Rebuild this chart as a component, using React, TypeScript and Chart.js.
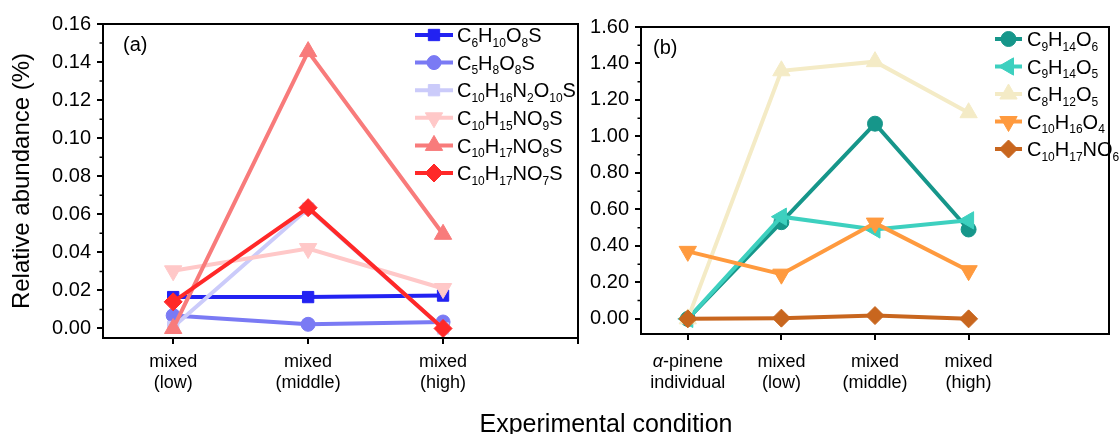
import React, { useEffect, useRef } from 'react';
import { Chart, registerables } from 'chart.js';
import { drawPoint } from 'chart.js/helpers';

Chart.register(...registerables);

const FONT = '"Liberation Sans", Arial, Helvetica, sans-serif';

// ---------- Panel (a) ----------
const categoriesA = [['mixed', '(low)'], ['mixed', '(middle)'], ['mixed', '(high)']];
const xTicksA = [0, 1, 2, 3];
const yTicksA = [0, 0.02, 0.04, 0.06, 0.08, 0.1, 0.12, 0.14, 0.16];
const namesA = ['C6H10O8S', 'C5H8O8S', 'C10H16N2O10S', 'C10H15NO9S', 'C10H17NO8S', 'C10H17NO7S'];
const C6H10O8S = [0.0165, 0.0165, 0.0173];
const C5H8O8S = [0.0068, 0.0022, 0.0034];
const C10H16N2O10S = [0.0008, 0.063, 0.0];
const C10H15NO9S = [0.0303, 0.042, 0.021];
const C10H17NO8S = [0.0, 0.1455, 0.0495];
const C10H17NO7S = [0.014, 0.0635, 0.0];
const valuesA = [C6H10O8S, C5H8O8S, C10H16N2O10S, C10H15NO9S, C10H17NO8S, C10H17NO7S];
const colorsA = ['#2222f2', '#7a7af4', '#cbcbfa', '#ffc8c8', '#f87b7b', '#ff2828'];
const markersA = [
  { style: 'rect', rotation: 0, radius: 8 },
  { style: 'circle', rotation: 0, radius: 7 },
  { style: 'rect', rotation: 0, radius: 8 },
  { style: 'triangle', rotation: 180, radius: 10 },
  { style: 'triangle', rotation: 0, radius: 10 },
  { style: 'rectRot', rotation: 0, radius: 9 },
];

// ---------- Panel (b) ----------
const categoriesB = [['α-pinene', 'individual'], ['mixed', '(low)'], ['mixed', '(middle)'], ['mixed', '(high)']];
const xTicksB = [0, 1, 2, 3];
const yTicksB = [0, 0.2, 0.4, 0.6, 0.8, 1.0, 1.2, 1.4, 1.6];
const namesB = ['C9H14O6', 'C9H14O5', 'C8H12O5', 'C10H16O4', 'C10H17NO6'];
const C9H14O6 = [0.0, 0.53, 1.07, 0.49];
const C9H14O5 = [0.0, 0.56, 0.49, 0.54];
const C8H12O5 = [0.0, 1.36, 1.41, 1.13];
const C10H16O4 = [0.37, 0.245, 0.525, 0.264];
const C10H17NO6 = [0.0, 0.004, 0.018, 0.0];
const valuesB = [C9H14O6, C9H14O5, C8H12O5, C10H16O4, C10H17NO6];
const colorsB = ['#16968a', '#3dd0bf', '#f4ebc6', '#ff9a3e', '#c8661e'];
const markersB = [
  { style: 'circle', rotation: 0, radius: 7.5 },
  { style: 'triangle', rotation: 270, radius: 10 },
  { style: 'triangle', rotation: 0, radius: 10 },
  { style: 'triangle', rotation: 180, radius: 10 },
  { style: 'rectRot', rotation: 0, radius: 9 },
];

function buildDatasets(names: string[], values: number[][], colors: string[], markers: any[]) {
  return names.map((name, i) => ({
    label: name,
    data: values[i].map((v, j) => ({ x: j, y: v })),
    borderColor: colors[i],
    backgroundColor: colors[i],
    borderWidth: 4,
    pointStyle: markers[i].style,
    pointRotation: markers[i].rotation,
    pointRadius: markers[i].radius,
    pointHoverRadius: markers[i].radius,
    pointBackgroundColor: colors[i],
    pointBorderColor: colors[i],
    pointBorderWidth: 1,
    clip: false,
    order: -i,
    tension: 0,
  }));
}

function drawFormula(ctx: CanvasRenderingContext2D, text: string, x: number, yMid: number, main: number, sub: number) {
  let cx = x;
  const base = yMid + main * 0.36;
  const tokens = text.match(/\d+|\D+/g) || [];
  ctx.textAlign = 'left';
  ctx.textBaseline = 'alphabetic';
  for (const tk of tokens) {
    if (/\d/.test(tk)) {
      ctx.font = `${sub}px ${FONT}`;
      ctx.fillText(tk, cx, base + sub * 0.38);
    } else {
      ctx.font = `${main}px ${FONT}`;
      ctx.fillText(tk, cx, base);
    }
    cx += ctx.measureText(tk).width;
  }
}

// draws a centred label line, with a Greek letter in italics
function drawTickLine(ctx: CanvasRenderingContext2D, text: string, cx: number, base: number, size: number) {
  const segs = text.match(/[α-ω]+|[^α-ω]+/g) || [];
  const fonts = segs.map((s) => (/[α-ω]/.test(s) ? `italic ${size}px ${FONT}` : `${size}px ${FONT}`));
  let total = 0;
  const widths = segs.map((s, i) => { ctx.font = fonts[i]; const w = ctx.measureText(s).width; total += w; return w; });
  let x = cx - total / 2;
  ctx.textAlign = 'left';
  ctx.textBaseline = 'alphabetic';
  segs.forEach((s, i) => { ctx.font = fonts[i]; ctx.fillText(s, x, base); x += widths[i]; });
}

const decorPlugin = {
  id: 'decor',
  afterDraw(chart: any, _args: any, opts: any) {
    const { ctx, chartArea: a, scales } = chart;
    ctx.save();
    ctx.strokeStyle = '#000';
    ctx.lineWidth = 2;
    ctx.strokeRect(a.left, a.top, a.right - a.left, a.bottom - a.top);
    // minor ticks on y
    const ys = scales.y;
    const t = ys.ticks.map((k: any) => k.value);
    ctx.lineWidth = 1.5;
    ctx.beginPath();
    for (let i = 0; i < t.length - 1; i++) {
      const p = ys.getPixelForValue((t[i] + t[i + 1]) / 2);
      ctx.moveTo(a.left - 3.5, p);
      ctx.lineTo(a.left, p);
    }
    ctx.stroke();
    // x category labels
    ctx.fillStyle = '#000';
    opts.categories.forEach((lines: string[], i: number) => {
      const px = scales.x.getPixelForValue(i);
      lines.forEach((ln, k) => drawTickLine(ctx, ln, px, opts.labelBase + k * opts.labelStep, 18));
    });
    // panel label
    ctx.font = `20px ${FONT}`;
    ctx.textBaseline = 'middle';
    ctx.textAlign = 'left';
    ctx.fillText(opts.panel, opts.panelX, opts.panelY);
    // legend
    chart.data.datasets.forEach((ds: any, i: number) => {
      const y = opts.legY + i * opts.legDy;
      ctx.strokeStyle = ds.borderColor;
      ctx.lineWidth = 4;
      ctx.beginPath();
      ctx.moveTo(opts.legX0, y);
      ctx.lineTo(opts.legX1, y);
      ctx.stroke();
      ctx.fillStyle = ds.pointBackgroundColor;
      ctx.strokeStyle = ds.pointBorderColor;
      ctx.lineWidth = 1;
      drawPoint(ctx, { pointStyle: ds.pointStyle, rotation: ds.pointRotation, radius: ds.pointRadius, borderWidth: 1 } as any, (opts.legX0 + opts.legX1) / 2, y);
      ctx.fillStyle = '#000';
      drawFormula(ctx, ds.label, opts.legTx, y, 20, 12);
    });
    ctx.restore();
  },
};

function makeConfig(p: any): any {
  return {
    type: 'line',
    data: { datasets: buildDatasets(p.names, p.values, p.colors, p.markers) },
    plugins: [decorPlugin],
    options: {
      animation: false,
      responsive: false,
      events: [],
      layout: { padding: { top: p.top, right: p.right, left: 0, bottom: 0 } },
      plugins: {
        legend: { display: false },
        tooltip: { enabled: false },
        decor: { ...p.decor, categories: p.categories, labelBase: 367, labelStep: 20.5 },
      },
      scales: {
        x: {
          type: 'linear',
          min: p.xMin,
          max: p.xMax,
          afterBuildTicks: (s: any) => { s.ticks = p.xTicks.map((v: number) => ({ value: v })); },
          afterFit: (s: any) => { s.height = p.xHeight; },
          grid: { drawOnChartArea: false, drawTicks: true, tickLength: 6, color: '#000', lineWidth: 2 },
          border: { display: false },
          ticks: { display: false },
        },
        y: {
          type: 'linear',
          min: p.yMin,
          max: p.yMax,
          afterBuildTicks: (s: any) => { s.ticks = p.yTicks.map((v: number) => ({ value: v })); },
          afterFit: (s: any) => { s.width = p.yWidth; },
          grid: { drawOnChartArea: false, drawTicks: true, tickLength: 6, color: '#000', lineWidth: 2 },
          border: { display: false },
          ticks: {
            padding: 6,
            color: '#000',
            font: { family: FONT, size: 20 },
            callback: (v: number) => Number(v).toFixed(2),
          },
          title: p.yTitle
            ? { display: true, text: p.yTitle, color: '#000', font: { family: FONT, size: 24 }, padding: { top: 8, bottom: 0 } }
            : { display: false },
        },
      },
    },
  };
}

export default function App() {
  const refA = useRef<HTMLCanvasElement>(null);
  const refB = useRef<HTMLCanvasElement>(null);

  useEffect(() => {
    const a = new Chart(refA.current as HTMLCanvasElement, makeConfig({
      names: namesA, values: valuesA, colors: colorsA, markers: markersA,
      categories: categoriesA, xTicks: xTicksA, yTicks: yTicksA,
      xMin: -0.52, xMax: 3, yMin: -0.005, yMax: 0.16,
      top: 24, right: 2, xHeight: 96, yWidth: 103,
      yTitle: 'Relative abundance (%)',
      decor: { panel: '(a)', panelX: 123, panelY: 45, legX0: 415, legX1: 453, legTx: 457, legY: 35, legDy: 27.6 },
    }));
    const b = new Chart(refB.current as HTMLCanvasElement, makeConfig({
      names: namesB, values: valuesB, colors: colorsB, markers: markersB,
      categories: categoriesB, xTicks: xTicksB, yTicks: yTicksB,
      xMin: -0.5, xMax: 4.5, yMin: -0.083, yMax: 1.6,
      top: 27, right: 2, xHeight: 100, yWidth: 61,
      yTitle: null,
      decor: { panel: '(b)', panelX: 73, panelY: 48, legX0: 415, legX1: 442, legTx: 447, legY: 39, legDy: 27.5 },
    }));
    return () => { a.destroy(); b.destroy(); };
  }, []);

  return (
    <div style={{ position: 'fixed', left: 0, top: 0, width: 1120, height: 434, background: '#fff', overflow: 'hidden' }}>
      <canvas ref={refA} width={589} height={434} style={{ position: 'absolute', left: 0, top: 0, width: 589, height: 434 }} />
      <canvas ref={refB} width={540} height={434} style={{ position: 'absolute', left: 580, top: 0, width: 540, height: 434 }} />
      <div style={{ position: 'absolute', left: 0, top: 408, width: 1212, textAlign: 'center', fontFamily: FONT, fontSize: 25, lineHeight: '30px', color: '#000', whiteSpace: 'nowrap' }}>
        Experimental condition
      </div>
    </div>
  );
}
